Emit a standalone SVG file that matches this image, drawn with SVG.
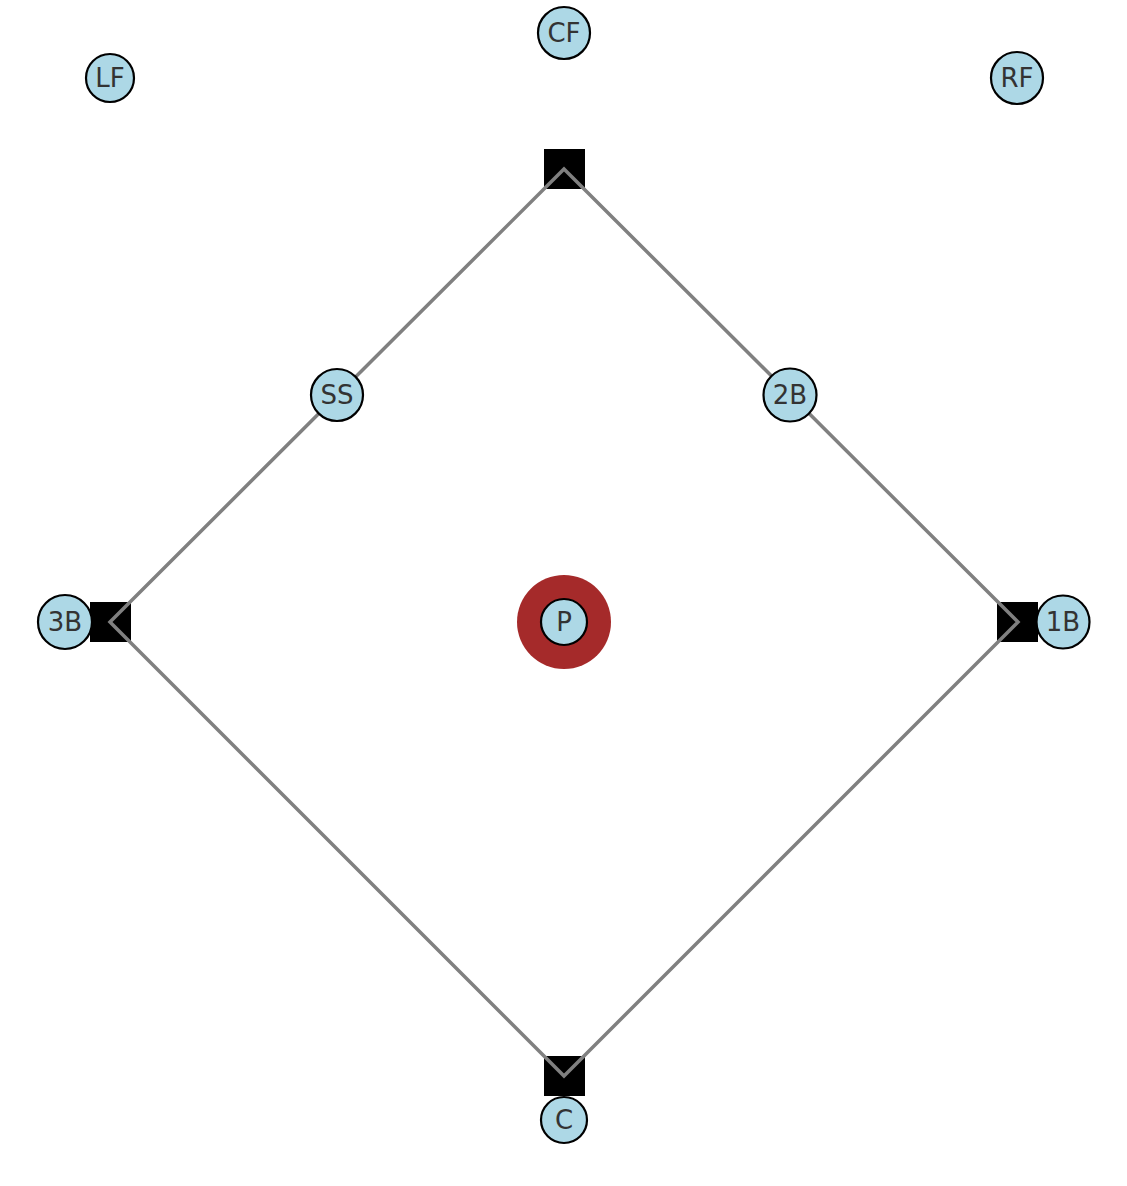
<svg xmlns="http://www.w3.org/2000/svg" width="1127" height="1186" viewBox="0 0 1127 1186">
<style>
.base{fill:#000}
.n circle{fill:#ADD8E6;stroke:#000;stroke-width:2.2}
.n text{font-family:"DejaVu Sans",sans-serif;font-size:26px;fill:#333;text-anchor:middle;dominant-baseline:central}
.line{fill:none;stroke:#808080;stroke-width:3.5}
</style>
<rect width="1127" height="1186" fill="#fff"/>
<g id="bases">
<rect class="base" x="544" y="149" width="41" height="40"/>
<rect class="base" x="997" y="602" width="41" height="40"/>
<rect class="base" x="544" y="1056" width="41" height="40"/>
<rect class="base" x="90" y="602" width="41" height="40"/>
</g>
<g id="connectors">
<polygon class="line" points="564,169 1018,622 564,1076 110,622"/>
</g>
<g id="mound"><circle cx="564" cy="622" r="47" fill="#A52A2A"/></g>
<g id="LF" class="n"><circle cx="110" cy="78" r="24"/><text x="110" y="78">LF</text></g>
<g id="CF" class="n"><circle cx="564" cy="33" r="26"/><text x="564" y="33">CF</text></g>
<g id="RF" class="n"><circle cx="1017" cy="78" r="26"/><text x="1017" y="78">RF</text></g>
<g id="SS" class="n"><circle cx="337" cy="395" r="26"/><text x="337" y="395">SS</text></g>
<g id="2B" class="n"><circle cx="790" cy="395" r="26.5"/><text x="790" y="395">2B</text></g>
<g id="3B" class="n"><circle cx="65" cy="622" r="27"/><text x="65" y="622">3B</text></g>
<g id="P" class="n"><circle cx="564" cy="622" r="23"/><text x="564" y="622">P</text></g>
<g id="1B" class="n"><circle cx="1063" cy="622" r="26.5"/><text x="1063" y="622">1B</text></g>
<g id="C" class="n"><circle cx="564" cy="1120" r="23"/><text x="564" y="1120">C</text></g>
</svg>
